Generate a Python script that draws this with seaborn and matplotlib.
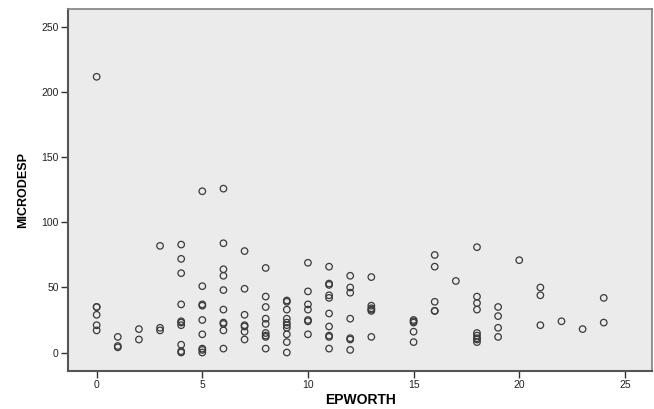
import matplotlib
matplotlib.use("Agg")
import matplotlib.pyplot as plt
import pandas as pd
import seaborn as sns

# values, one entry per case
epworth = (
    [0] * 6 + [1] * 3 + [2] * 2 + [3] * 3 + [4] * 10 + [5] * 9 + [6] * 10
    + [7] * 7 + [8] * 9 + [9] * 10 + [10] * 7 + [11] * 10 + [12] * 7
    + [13] * 6 + [15] * 5 + [16] * 5 + [17] + [18] * 9 + [19] * 4 + [20]
    + [21] * 3 + [22] + [23] + [24] * 2
)
microdesp = [
    212, 35, 35, 29, 21, 17,                 # 0
    12, 5, 4,                                # 1
    18, 10,                                  # 2
    82, 19, 17,                              # 3
    83, 72, 61, 37, 24, 23, 21, 6, 1, 0,     # 4
    124, 51, 37, 36, 25, 14, 3, 2, 0,        # 5
    126, 84, 64, 59, 48, 33, 23, 22, 17, 3,  # 6
    78, 49, 29, 21, 20, 16, 10,              # 7
    65, 43, 35, 26, 22, 15, 13, 12, 3,       # 8
    40, 39, 33, 26, 23, 21, 19, 14, 8, 0,    # 9
    69, 47, 37, 33, 25, 24, 14,              # 10
    66, 53, 52, 44, 42, 30, 20, 13, 12, 3,   # 11
    59, 50, 46, 26, 11, 10, 2,               # 12
    58, 36, 34, 33, 32, 12,                  # 13
    25, 24, 23, 16, 8,                       # 15
    75, 66, 39, 32, 32,                      # 16
    55,                                      # 17
    81, 43, 38, 33, 15, 13, 11, 10, 8,       # 18
    35, 28, 19, 12,                          # 19
    71,                                      # 20
    50, 44, 21,                              # 21
    24,                                      # 22
    18,                                      # 23
    42, 23,                                  # 24
]
x_ticks = [0, 5, 10, 15, 20, 25]
y_ticks = [0, 50, 100, 150, 200, 250]

df = pd.DataFrame({"EPWORTH": epworth, "MICRODESP": microdesp})

plt.rcParams["font.family"] = ["Liberation Sans", "DejaVu Sans"]

fig = plt.figure(figsize=(6.54, 4.09), dpi=100)
ax = fig.add_axes([0.1045, 0.0936, 0.892, 0.884])
ax.set_facecolor("#EBEBEB")

sns.scatterplot(
    data=df, x="EPWORTH", y="MICRODESP", ax=ax,
    marker="o", s=22, facecolor="none", edgecolor="#3a3a3a", linewidth=0.9,
)

ax.set_xlim(-1.34, 26.27)
ax.set_ylim(-14, 264)
ax.set_xticks(x_ticks)
ax.set_yticks(y_ticks)
ax.tick_params(axis="both", direction="out", length=5, width=1, color="#333333",
               labelsize=7.5, labelcolor="#222222", pad=2)

ax.set_xlabel("EPWORTH", fontsize=10, fontweight="bold", labelpad=1.5)
ax.set_ylabel("MICRODESP", fontsize=9, fontweight="bold", labelpad=9)

for side in ["left", "bottom"]:
    ax.spines[side].set_color("#555555")
    ax.spines[side].set_linewidth(1.5)
for side in ["top", "right"]:
    ax.spines[side].set_color("#808080")
    ax.spines[side].set_linewidth(1.2)

fig.savefig("out.png", dpi=100)
